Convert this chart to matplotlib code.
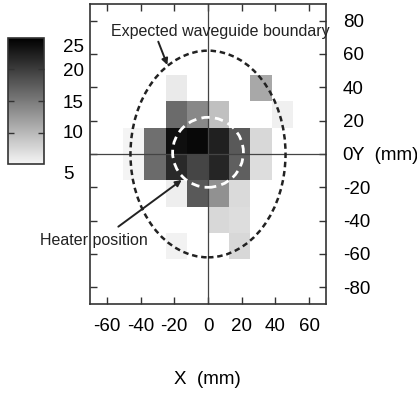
import numpy as np
import matplotlib
matplotlib.use("Agg")
import matplotlib.pyplot as plt
from matplotlib.colors import LinearSegmentedColormap
from matplotlib.patches import Ellipse

plt.rcParams['font.family'] = ['Liberation Sans', 'DejaVu Sans']
plt.rcParams['axes.unicode_minus'] = False

# ---- data ----
x_edges_mm = [-50.4, -37.8, -25.2, -12.6, 0.0, 12.6, 25.2, 37.8, 50.4]
y_edges_mm = [-63.2, -47.4, -31.6, -15.8, 0.0, 15.8, 31.6, 47.4]
nan = np.nan
# rows listed from bottom (y=-63.2..-47.4) to top (31.6..47.4); columns left to right
row_m4 = [nan, nan, 5.3, nan, nan, 7.4, nan, nan]
row_m3 = [nan, nan, nan, nan, 7.4, 7.0, nan, nan]
row_m2 = [nan, nan, 5.6, 17.7, 13.2, 7.2, nan, nan]
row_m1 = [5.1, 16.3, 21.6, 19.3, 21.9, 17.2, 7.0, nan]
row_0 = [5.1, 15.9, 23.7, 24.3, 22.4, 17.7, 7.4, nan]
row_p1 = [nan, nan, 16.3, 13.9, 9.3, nan, nan, 5.4]
row_p2 = [nan, nan, 5.9, nan, nan, nan, 11.3, nan]

x_ticks = [-60, -40, -20, 0, 20, 40, 60]
y_ticks = [-80, -60, -40, -20, 0, 20, 40, 60, 80]
cbar_ticks = [10, 15, 20]
cbar_labels = ['25', '20', '15', '10', '5']
cbar_label_px_y = [48, 71, 103, 134, 175]

boundary_semi_axes = (46, 62)
heater_center = (0, 1)
heater_radius = 21

W, H = 417, 394
fig = plt.figure(figsize=(W / 100, H / 100), dpi=100)

def fx(px):
    return px / W

def fy(py):
    return 1 - py / H

ax = fig.add_axes([fx(90), fy(304), fx(326) - fx(90), fy(4) - fy(304)])

vals = np.array([row_m4, row_m3, row_m2, row_m1, row_0, row_p1, row_p2])
cmap = LinearSegmentedColormap.from_list('g', ['#f5f5f5', '#000000'])
mesh = ax.pcolormesh(x_edges_mm, y_edges_mm, np.ma.masked_invalid(vals),
                     cmap=cmap, vmin=5, vmax=25, zorder=1)

ax.axhline(0, color='#444444', lw=0.9, zorder=2)
ax.axvline(0, color='#444444', lw=0.9, zorder=2)

ell = Ellipse((0, 0), 2 * boundary_semi_axes[0], 2 * boundary_semi_axes[1],
              fill=False, edgecolor='#222222', lw=1.8, ls=(0, (2.2, 1.5)), zorder=3)
ax.add_patch(ell)
circ = Ellipse(heater_center, 2 * heater_radius, 2 * heater_radius,
               fill=False, edgecolor='white', lw=2.0, ls=(0, (3.0, 1.9)), zorder=3)
ax.add_patch(circ)

ax.set_xlim(-70, 70)
ax.set_ylim(-90, 90)
ax.set_xticks(x_ticks)
ax.set_yticks(y_ticks)
ax.tick_params(axis='both', direction='in', length=5, width=1, color='#333333',
               labelsize=13.5, top=True, right=True)
ax.tick_params(axis='y', labelleft=False, labelright=True, pad=12)
ax.tick_params(axis='x', pad=10)
for s in ax.spines.values():
    s.set_color('#333333')
    s.set_linewidth(1.2)

# annotations
ax.annotate('', xy=(-24.1, 53.4), xytext=(-29.5, 67.4),
            arrowprops=dict(arrowstyle='-|>', lw=1.4, color='#222222', mutation_scale=9,
                            shrinkA=0, shrinkB=0), zorder=4)
ax.annotate('', xy=(-15.6, -15.6), xytext=(-53.2, -43.6),
            arrowprops=dict(arrowstyle='-|>', lw=1.4, color='#222222', mutation_scale=9,
                            shrinkA=0, shrinkB=0), zorder=4)
fig.text(fx(110.5), fy(31.5), 'Expected waveguide boundary', fontsize=11.5,
         ha='left', va='center', color='#222222')
fig.text(fx(40), fy(240), 'Heater position', fontsize=11.5,
         ha='left', va='center', color='#222222')

fig.text(fx(207.5), fy(380), 'X  (mm)', fontsize=13.5, ha='center', va='center')
fig.text(fx(352), fy(155), 'Y  (mm)', fontsize=13.5, ha='left', va='center')

# colorbar
cax = fig.add_axes([fx(8), fy(164), fx(44) - fx(8), fy(38) - fy(164)])
cb = fig.colorbar(mesh, cax=cax)
cb.set_ticks(cbar_ticks)
cax.yaxis.set_ticks_position('both')
cax.tick_params(axis='y', direction='in', length=4, width=1, color='#333333',
                labelleft=False, labelright=False)
cb.outline.set_edgecolor('#333333')
cb.outline.set_linewidth(1.2)
for lab, py in zip(cbar_labels, cbar_label_px_y):
    fig.text(fx(63), fy(py), lab, fontsize=13.5, ha='left', va='center')

fig.savefig('out.png', dpi=100)
